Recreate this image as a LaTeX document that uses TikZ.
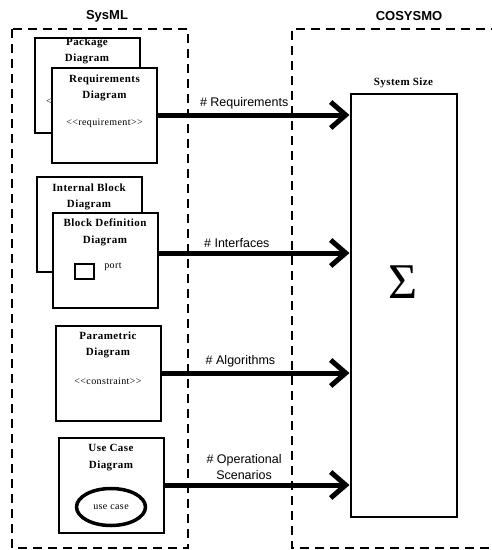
\documentclass[tikz,border=0pt]{standalone}
\usepackage{fontspec}
\setmainfont{Liberation Serif}
\setsansfont{Liberation Sans}
\newfontfamily\boxfont[LetterSpace=4]{Liberation Serif}
\usetikzlibrary{arrows.meta,shapes.geometric}

\begin{document}
\begin{tikzpicture}[x=1pt,y=-1pt,
	diag/.style={draw, line width=2pt, fill=white, minimum width=105, minimum height=95, inner sep=0pt},
	ttl/.style={align=center, font=\boxfont\bfseries\fontsize{11}{16.5}\selectfont},
	txt/.style={font=\boxfont\fontsize{10}{12}\selectfont},
	lbl/.style={align=center, font=\sffamily\fontsize{12.5}{16}\selectfont},
	head/.style={font=\sffamily\bfseries\fontsize{13}{16}\selectfont},
	frame/.style={line width=2.2pt, dash pattern=on 9pt off 6pt},
	flow/.style={line width=5pt, -{Straight Barb[length=15pt,width=26pt]}}]
		\useasboundingbox (0,0) rectangle (491,550);
		
		% the two tools
		\node[head] (sysml) at (107,16) {SysML};
		\node[head] (cosysmo) at (409,16) {COSYSMO};
		\draw[frame] (12,29) rectangle (188,548);
		\draw[frame] (500,29) -- (292,29) -- (292,548) -- (500,548);
		
		% SysML diagrams
		\node[diag] (pkg) at (87,85) {};
		\node[ttl] (pkgt) at (87,51) {Package\\Diagram};
		\node[txt] (pkgs) at (52,102) {<<};
		\node[diag] (req) at (104.5,115) {};
		\node[ttl] (reqt) at (104.5,88) {Requirements\\Diagram};
		\node[txt] (reqs) at (104.5,123) {<<requirement>>};
		
		\node[diag] (ibd) at (89,224.5) {};
		\node[ttl] (ibdt) at (89,197) {Internal Block\\Diagram};
		\node[diag] (bdd) at (105,260) {};
		\node[ttl] (bddt) at (105,232.5) {Block Definition\\Diagram};
		\node[draw, line width=2.2pt, minimum width=19, minimum height=15] (port) at (84.5,271.5) {};
		\node[txt] (portt) at (113,267) {port};
		
		\node[diag] (par) at (108,373) {};
		\node[ttl] (part) at (108,345) {Parametric\\Diagram};
		\node[txt] (pars) at (108,381) {<<constraint>>};
		
		\node[diag] (ucd) at (111,485) {};
		\node[ttl] (ucdt) at (111,457.5) {Use Case\\Diagram};
		\node[ellipse, draw, line width=3.5pt, minimum width=69, minimum height=37, txt] (uc) at (111,507) {use case};
		
		% COSYSMO size
		\node[draw, line width=2pt, minimum width=106, minimum height=423] (size) at (403.5,305) {};
		\node[ttl] (sizet) at (403.5,83) {System Size};
		\node[font=\fontsize{50}{50}\selectfont] (sum) at (403.5,282) {Σ};
		\path (bdd.east) ++(0,-7) coordinate (ifc);
		
		\draw[flow] (req.east) -- node[lbl, above, pos=0.45] {\# Requirements} (size.west |- req.east);
		\draw[flow] (ifc) -- node[lbl, above, pos=0.41] {\# Interfaces} (size.west |- ifc);
		\draw[flow] (par.east) -- node[lbl, above, pos=0.42] {\# Algorithms} (size.west |- par.east);
		\draw[flow] (ucd.east) -- node[lbl, above, pos=0.43] {\# Operational\\Scenarios} (size.west |- ucd.east);
\end{tikzpicture}
\end{document}
